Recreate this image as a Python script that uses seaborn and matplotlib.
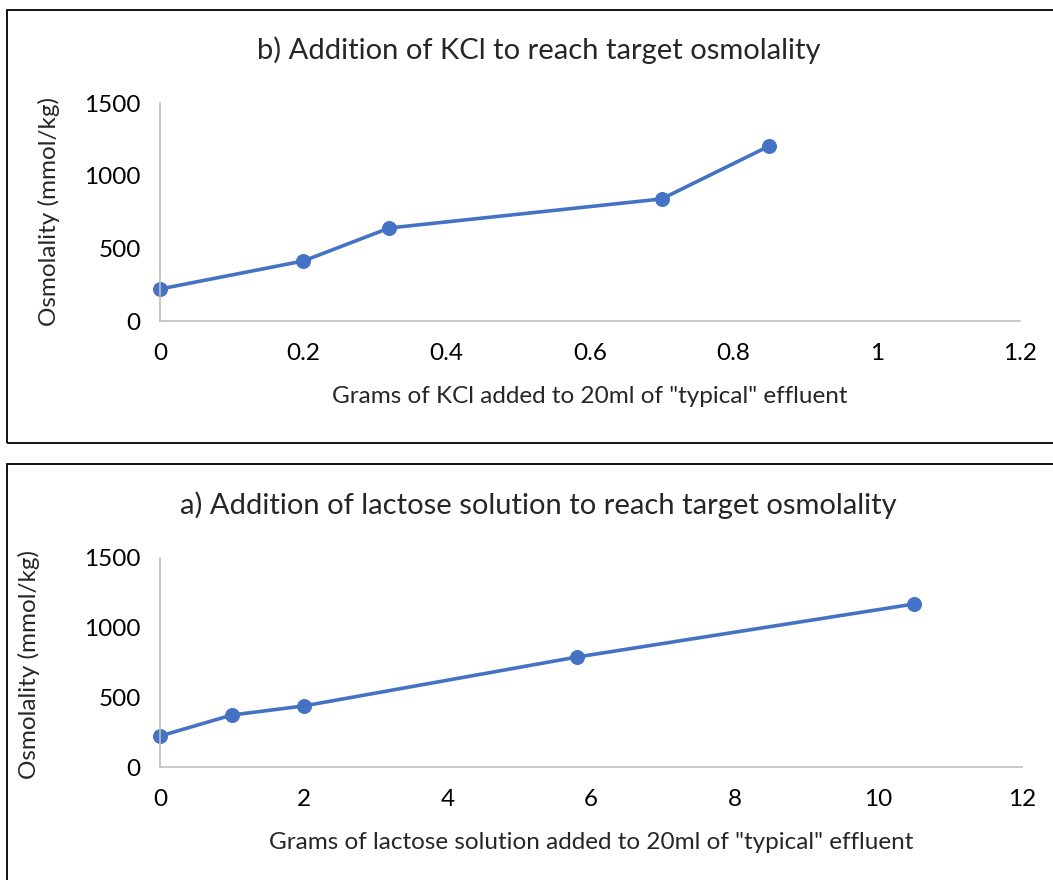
import matplotlib
matplotlib.use("Agg")
import matplotlib.pyplot as plt
import seaborn as sns
import pandas as pd
from matplotlib.patches import Rectangle

kcl_grams = [0, 0.2, 0.32, 0.7, 0.85]
kcl_osmo = [220, 413, 640, 840, 1204]
lac_grams = [0, 1, 2, 5.8, 10.5]
lac_osmo = [222, 373, 438, 789, 1170]

title_b = "b) Addition of KCl to reach target osmolality"
title_a = "a) Addition of lactose solution to reach target osmolality"
xlabel_b = 'Grams of KCl added to 20ml of "typical" effluent'
xlabel_a = 'Grams of lactose solution added to 20ml of "typical" effluent'
ylabel = "Osmolality (mmol/kg)"

sns.set_style("white")
plt.rcParams['font.family'] = ['Lato', 'DejaVu Sans']

W, H = 1053, 880
fig = plt.figure(figsize=(W/100, H/100), dpi=100)
color = "#4472C4"
grey = "#BFBFBF"
FS = 17.5

def fx(px): return px / W
def fy(py): return 1 - py / H

# panel borders
fig.patches.append(Rectangle((fx(7), fy(443)), fx(1060) - fx(7), fy(10) - fy(443),
                             transform=fig.transFigure, fill=False, edgecolor="black", lw=1.3))
fig.patches.append(Rectangle((fx(7), fy(890)), fx(1060) - fx(7), fy(464) - fy(890),
                             transform=fig.transFigure, fill=False, edgecolor="black", lw=1.3))

ax1 = fig.add_axes([fx(160), fy(321), fx(1020) - fx(160), fy(103) - fy(321)])
ax2 = fig.add_axes([fx(160), fy(767), fx(1022) - fx(160), fy(558) - fy(767)])

def style(ax, xlim, xticks, xticklabels, xlabel, xlc, ylc):
    ax.set_xlim(*xlim)
    ax.set_ylim(0, 1500)
    ax.set_xticks(xticks)
    ax.set_xticklabels(xticklabels)
    ax.set_yticks([0, 500, 1000, 1500])
    for s in ["top", "right"]:
        ax.spines[s].set_visible(False)
    for s in ["left", "bottom"]:
        ax.spines[s].set_color(grey)
        ax.spines[s].set_linewidth(1.2)
    ax.tick_params(axis="both", which="both", direction="out", length=6, width=1.2,
                   color=grey, labelsize=FS, labelcolor="black")
    ax.tick_params(axis="x", pad=10)
    ax.tick_params(axis="y", pad=8)
    ax.set_xlabel(xlabel, fontsize=FS)
    ax.set_ylabel(ylabel, fontsize=FS)
    ax.xaxis.set_label_coords(*xlc)
    ax.yaxis.set_label_coords(*ylc)
    for sp in ax.spines.values():
        sp.set_clip_on(False)

df1 = pd.DataFrame({"x": kcl_grams, "y": kcl_osmo})
df2 = pd.DataFrame({"x": lac_grams, "y": lac_osmo})
sns.lineplot(data=df1, x="x", y="y", ax=ax1, color=color, lw=2.6, marker="o",
             markersize=10, markeredgecolor=color, clip_on=False)
sns.lineplot(data=df2, x="x", y="y", ax=ax2, color=color, lw=2.6, marker="o",
             markersize=10, markeredgecolor=color, clip_on=False)

style(ax1, (0, 1.2), [0, 0.2, 0.4, 0.6, 0.8, 1.0, 1.2],
      ["0", "0.2", "0.4", "0.6", "0.8", "1", "1.2"], xlabel_b, (0.5, -0.298), (-0.116, 0.5))
style(ax2, (0, 12), [0, 2, 4, 6, 8, 10, 12],
      ["0", "2", "4", "6", "8", "10", "12"], xlabel_a, (0.5, -0.31), (-0.139, 0.49))

fig.text(fx(539), fy(50), title_b, ha="center", va="center", fontsize=21)
fig.text(fx(538), fy(505), title_a, ha="center", va="center", fontsize=21)

fig.savefig("out.png", dpi=100)
